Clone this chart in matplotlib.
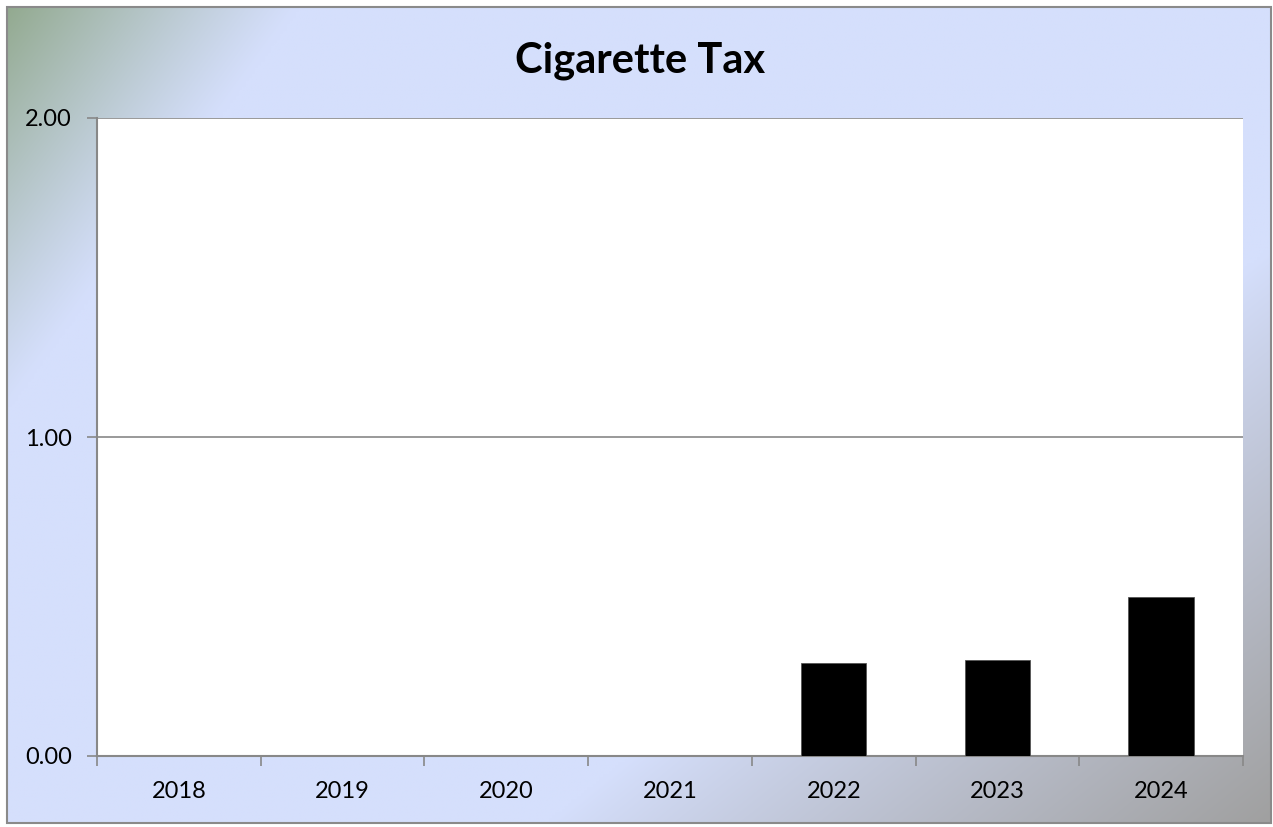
import numpy as np
import matplotlib
matplotlib.use("Agg")
import matplotlib.pyplot as plt
from matplotlib.colors import to_rgb
from matplotlib.patches import Rectangle

years = ["2018", "2019", "2020", "2021", "2022", "2023", "2024"]
values = [0.0, 0.0, 0.0, 0.0, 0.29, 0.30, 0.50]
yticks = [0.0, 1.0, 2.0]
title = "Cigarette Tax"

W, H = 1273, 827
FONT = ["Lato", "DejaVu Sans"]
fig = plt.figure(figsize=(W / 100, H / 100), dpi=100)
fig.patch.set_facecolor("white")

# background gradient panel
L, T, R, B = 7, 7, 1271, 823
bg = fig.add_axes([L / W, 1 - B / H, (R - L) / W, (B - T) / H])
bg.set_axis_off()
px, py = np.meshgrid(np.linspace(L, R, 400), np.linspace(T, B, 260))
green = np.array(to_rgb("#93aa90"))
blue = np.array(to_rgb("#d5dffc"))
grey = np.array(to_rgb("#a0a0a0"))
wg = np.clip(1 - (px - L) / 290 - (py - T) / 400, 0, 1) ** 1.1
wr = np.clip((px - 550) / 721 + (py - 250) / 573 - 1, 0, 1) ** 0.9
img = blue[None, None, :] * (1 - wg - wr)[..., None] + green * wg[..., None] + grey * wr[..., None]
bg.imshow(np.clip(img, 0, 1), aspect="auto", extent=[0, 1, 1, 0], interpolation="bilinear")
bg.set_xlim(0, 1)
bg.set_ylim(1, 0)
bg.add_patch(Rectangle((0, 0), 1, 1, transform=bg.transAxes, fill=False,
                       edgecolor="#8a8a8a", linewidth=1.5, clip_on=False))

# plot area
pl, pt, pr, pb = 97, 118, 1243, 756
ax = fig.add_axes([pl / W, 1 - pb / H, (pr - pl) / W, (pb - pt) / H])
ax.set_facecolor("white")
x = np.arange(len(years))
ax.bar(x, values, width=0.40, color="black", edgecolor="#555555", linewidth=0.6, zorder=3)
ax.set_xlim(-0.5, len(years) - 0.5)
ax.set_ylim(0, 2)
ax.set_yticks(yticks)
ax.set_yticklabels([f"{v:.2f}" for v in yticks], fontsize=17)
ax.set_xticks(x)
ax.set_xticklabels(years, fontsize=17)
ax.set_xticks(np.arange(-0.5, len(years), 1.0), minor=True)
ax.tick_params(axis="x", which="major", length=0, pad=18)
ax.tick_params(axis="x", which="minor", length=7, color="#888888", width=1.2)
ax.tick_params(axis="y", length=7, color="#888888", width=1.2, pad=11)
for lab in ax.get_xticklabels() + ax.get_yticklabels():
    lab.set_family(FONT)
ax.grid(axis="y", color="#888888", linewidth=1.2, zorder=0)
for s in ["top", "right"]:
    ax.spines[s].set_visible(False)
for s in ["left", "bottom"]:
    ax.spines[s].set_color("#888888")
    ax.spines[s].set_linewidth(1.5)

fig.text(640 / W, 1 - 72 / H, title, ha="center", va="baseline", fontsize=30,
         fontweight="bold", family=FONT)

fig.savefig("out.png", dpi=100)
